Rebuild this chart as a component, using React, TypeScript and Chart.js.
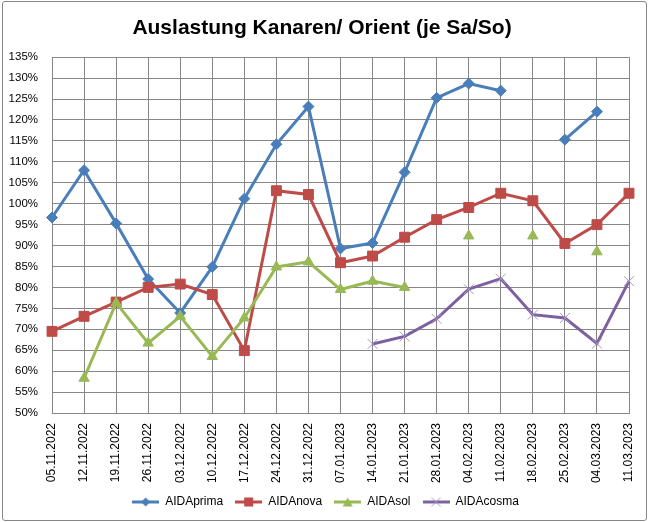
import { useEffect, useRef } from 'react'
import { Chart, registerables } from 'chart.js'

Chart.register(...registerables)

const weeks = [
  '05.11.2022',
  '12.11.2022',
  '19.11.2022',
  '26.11.2022',
  '03.12.2022',
  '10.12.2022',
  '17.12.2022',
  '24.12.2022',
  '31.12.2022',
  '07.01.2023',
  '14.01.2023',
  '21.01.2023',
  '28.01.2023',
  '04.02.2023',
  '11.02.2023',
  '18.02.2023',
  '25.02.2023',
  '04.03.2023',
  '11.03.2023',
]

// Auslastung in %
const aidaPrima = [96.7, 108, 95.3, 82, 73.9, 84.9, 101.2, 114.2, 123.2, 89.3, 90.6, 107.5, 125.3, 128.7, 127, null, 115.3, 122, null]
const aidaNova = [69.5, 73.1, 76.5, 80, 80.8, 78.3, 64.9, 103.1, 102.2, 85.9, 87.5, 92, 96.2, 99.1, 102.5, 100.7, 90.5, 95, 102.5]
const aidaSol = [null, 58.3, 76.3, 66.7, 73.1, 63.5, 72.7, 84.9, 86.1, 79.5, 81.5, 80, null, 92.3, null, 92.3, null, 88.5, null]
const aidaCosma = [null, null, null, null, null, null, null, null, null, null, 66.5, 68.3, 72.5, 79.6, 82.1, 73.5, 72.7, 66.6, 81.5]

const yMin = 50
const yMax = 135
const yStep = 5

const FONT = "'Liberation Sans', Arial, sans-serif"
const GRID = '#868686'

const series = [
  { label: 'AIDAprima', data: aidaPrima, color: '#4A7EBB', style: 'rectRot', radius: 5.5 },
  { label: 'AIDAnova', data: aidaNova, color: '#BE4B48', style: 'rect', radius: 7 },
  { label: 'AIDAsol', data: aidaSol, color: '#98B954', style: 'triangle', radius: 6 },
  { label: 'AIDAcosma', data: aidaCosma, color: '#7D60A0', style: 'crossRot', radius: 7 },
]

const makeIcon = (color: string, style: string) => {
  const c = document.createElement('canvas')
  c.width = 27
  c.height = 12
  const ctx = c.getContext('2d')!
  ctx.strokeStyle = color
  ctx.fillStyle = color
  ctx.lineWidth = 3
  ctx.beginPath()
  ctx.moveTo(0, 6)
  ctx.lineTo(27, 6)
  ctx.stroke()
  ctx.beginPath()
  if (style === 'rectRot') {
    ctx.moveTo(13.5, 1.5)
    ctx.lineTo(18, 6)
    ctx.lineTo(13.5, 10.5)
    ctx.lineTo(9, 6)
    ctx.fill()
  } else if (style === 'rect') {
    ctx.fillRect(9, 1.5, 9, 9)
  } else if (style === 'triangle') {
    ctx.moveTo(13.5, 1.5)
    ctx.lineTo(18.5, 10.5)
    ctx.lineTo(8.5, 10.5)
    ctx.fill()
  } else {
    ctx.lineWidth = 1
    ctx.strokeStyle = '#A994C6'
    ctx.moveTo(9, 1.5)
    ctx.lineTo(18, 10.5)
    ctx.moveTo(18, 1.5)
    ctx.lineTo(9, 10.5)
    ctx.stroke()
  }
  return c
}

// Excel centres title and legend a bit further right than Chart.js does
const shiftBoxes = {
  id: 'shiftBoxes',
  afterLayout: (chart: any) => {
    if (chart.titleBlock) {
      chart.titleBlock.left += 7.5
      chart.titleBlock.right += 7.5
    }
    if (chart.legend) {
      chart.legend.left += 11
      chart.legend.right += 11
    }
  },
}

const App = () => {
  const chartRef = useRef<HTMLCanvasElement | null>(null)

  useEffect(() => {
    document.body.style.margin = '0'
    let chartInstance: Chart | null = null
    if (chartRef.current) {
      const icons = series.map((s) => makeIcon(s.color, s.style))
      chartInstance = new Chart(chartRef.current, {
        type: 'line',
        data: {
          labels: weeks,
          datasets: series.map((s, i) => ({
            label: s.label,
            data: s.data,
            borderColor: s.color,
            backgroundColor: s.color,
            borderWidth: 3,
            pointStyle: s.style as any,
            pointRadius: s.radius,
            pointBorderWidth: 1,
            pointBorderColor: s.style === 'crossRot' ? '#A994C6' : s.color,
            pointBackgroundColor: s.color,
            spanGaps: false,
            tension: 0,
            order: series.length - i,
          })),
        },
        plugins: [shiftBoxes],
        options: {
          animation: false,
          responsive: false,
          layout: { padding: { left: 0, right: 19, top: 0, bottom: 4 } },
          plugins: {
            title: {
              display: true,
              text: 'Auslastung Kanaren/ Orient (je Sa/So)',
              color: '#000',
              font: { family: FONT, size: 21, weight: 'bold', lineHeight: 1.2 },
              padding: { top: 15.4, bottom: 16.6 },
            },
            legend: {
              position: 'bottom',
              labels: {
                usePointStyle: true,
                pointStyleWidth: 27,
                boxHeight: 12,
                padding: 12,
                color: '#000',
                font: { family: FONT, size: 12 },
                sort: (a, b) => (a.datasetIndex ?? 0) - (b.datasetIndex ?? 0),
                generateLabels: (chart) =>
                  chart.data.datasets.map((ds, i) => ({
                    text: ds.label as string,
                    pointStyle: icons[i],
                    fillStyle: 'transparent',
                    strokeStyle: 'transparent',
                    lineWidth: 0,
                    fontColor: '#000',
                    hidden: false,
                    datasetIndex: i,
                  })),
              },
            },
            tooltip: { enabled: false },
          },
          scales: {
            x: {
              offset: false,
              grid: { display: true, color: GRID, lineWidth: 1, drawTicks: false },
              border: { color: GRID },
              ticks: {
                autoSkip: false,
                minRotation: 90,
                maxRotation: 90,
                padding: 10,
                color: '#000',
                font: { family: FONT, size: 12 },
              },
              afterFit: (scale) => {
                scale.height = 71
                scale.paddingLeft = 0
                scale.paddingRight = 0
              },
            },
            y: {
              min: yMin,
              max: yMax,
              grid: { color: GRID, lineWidth: 1, drawTicks: false },
              border: { color: GRID },
              ticks: {
                stepSize: yStep,
                padding: 14,
                color: '#000',
                font: { family: FONT, size: 11.5 },
                callback: (v) => `${v}%`,
              },
              afterFit: (scale) => {
                scale.width = 52
              },
            },
          },
        },
      })
    }
    return () => {
      if (chartInstance) {
        chartInstance.destroy()
      }
    }
  }, [])

  return (
    <div style={{ position: 'absolute', left: 0, top: 0, width: 648, height: 522, background: '#fff' }}>
      <canvas ref={chartRef} width={648} height={522} style={{ display: 'block' }} />
      <div
        style={{
          position: 'absolute',
          left: 2,
          top: 1,
          width: 643,
          height: 518,
          border: `1px solid ${GRID}`,
          borderRadius: 3,
          pointerEvents: 'none',
        }}
      />
    </div>
  )
}

export default App
